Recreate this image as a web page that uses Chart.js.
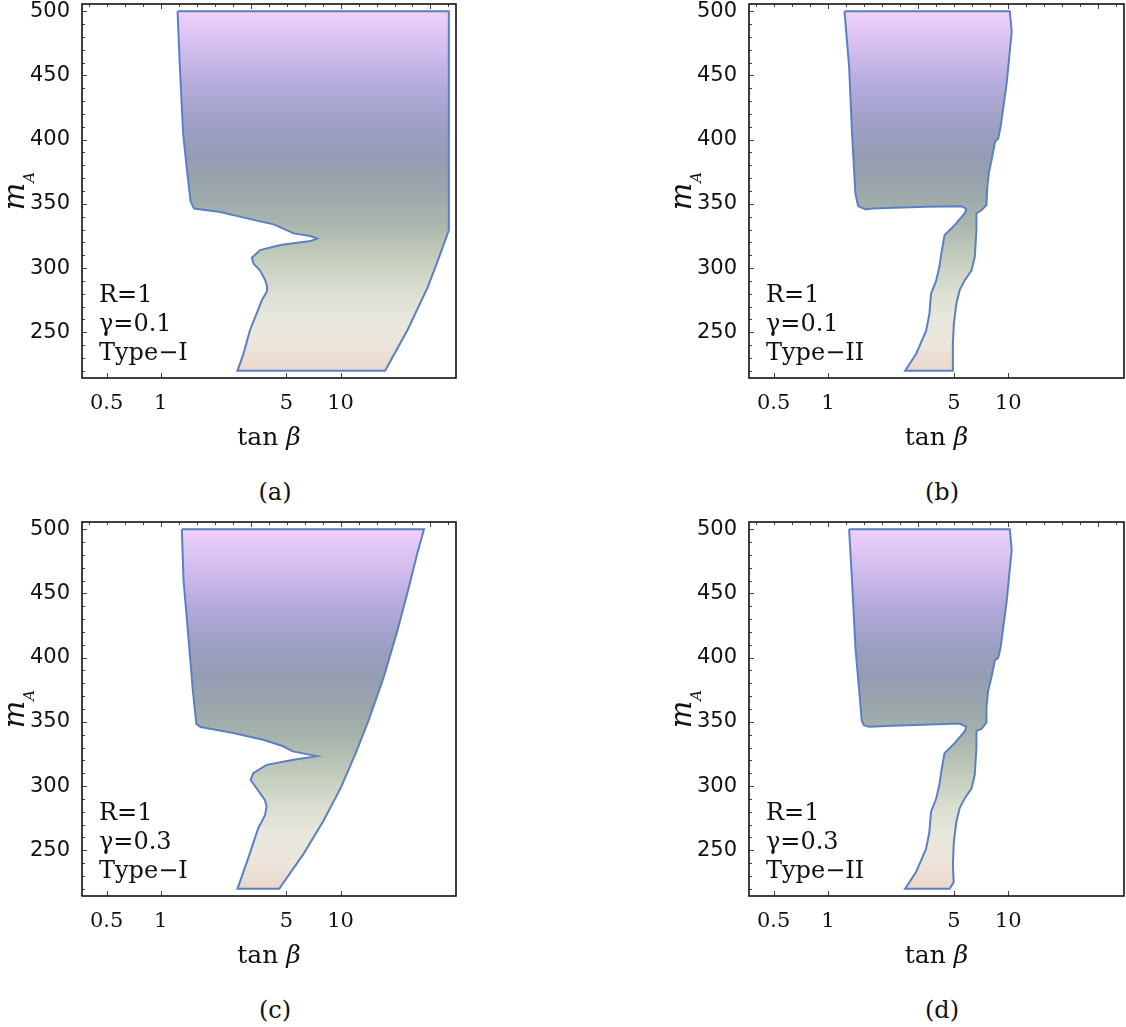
<!DOCTYPE html>
<html>
<head>
<meta charset="utf-8">
<script src="https://cdn.jsdelivr.net/npm/chart.js@4.4.1/dist/chart.umd.min.js"></script>
<style>
  body { margin: 0; background: #fff; }
  #page { position: relative; width: 1126px; height: 1027px; overflow: hidden; }
  canvas { position: absolute; }
  .cap { position: absolute; width: 80px; margin-left: -40px; text-align: center;
         font: 24px "DejaVu Serif"; color: #111; }
</style>
</head>
<body>
<div id="page">
  <canvas id="pa" width="470" height="460" style="left:0;top:0"></canvas>
  <canvas id="pb" width="459" height="460" style="left:667px;top:0"></canvas>
  <canvas id="pc" width="470" height="460" style="left:0;top:518px"></canvas>
  <canvas id="pd" width="459" height="460" style="left:667px;top:518px"></canvas>
  <div class="cap" style="left:275px;top:478px">(a)</div>
  <div class="cap" style="left:942px;top:478px">(b)</div>
  <div class="cap" style="left:275px;top:996px">(c)</div>
  <div class="cap" style="left:942px;top:996px">(d)</div>
</div>
<script>
// axis ranges and ticks
const tanRange = [0.3648, 43.85];
const massRange = [214.4, 505.6];
const tanTicks = [0.5, 1, 5, 10];
const tanTickLabels = ['0.5', '1', '5', '10'];
const massTicks = [250, 300, 350, 400, 450, 500];

// allowed regions, boundary traced clockwise from the top-left corner
// (a) R=1, gamma=0.1, Type-I
const tanA = [1.24, 40, 40, 34.8, 30.5, 23.6, 17.7, 2.67, 2.88, 3.14, 3.42, 3.65, 3.90, 3.90, 3.81, 3.57,
  3.28, 3.21, 3.57, 4.62, 6.80, 7.41, 6.80, 5.48, 5.04, 4.24, 3.28, 2.14, 1.53, 1.465, 1.392, 1.332, 1.277, 1.24];
const massA = [500, 500, 329.4, 306, 285, 252, 220, 220, 233, 252, 265, 275, 282, 286, 290.5, 298,
  303.5, 308, 314, 318, 321, 323, 325, 327, 329.4, 334, 337.5, 343.7, 346.3, 352, 379, 405, 457, 500];

// (b) R=1, gamma=0.1, Type-II
const tanB = [1.235, 10.2, 10.45, 9.80, 9.07, 8.80, 8.43, 8.08, 7.80, 7.63, 7.57, 7.10, 6.66, 6.66, 6.52,
  6.25, 5.73, 5.37, 5.15, 4.99, 4.93, 4.93, 2.68, 3.08, 3.50, 3.65, 3.73, 3.98, 4.15, 4.25, 4.43, 5.04,
  5.73, 5.86, 5.49, 3.50, 1.76, 1.62, 1.47, 1.42, 1.36, 1.31, 1.235];
const massB = [500, 500, 484, 444, 410, 401, 398, 384, 374, 361, 349, 345, 342.5, 329.5, 308.6,
  298, 290.4, 282.6, 272, 256.6, 241, 220, 220, 233, 251, 264, 280, 290, 301, 311, 325.5, 333.4,
  342.5, 346, 348.2, 347.7, 346.4, 345.6, 348.2, 358, 405, 457, 500];

// (c) R=1, gamma=0.3, Type-I
const tanC = [1.31, 29.1, 26.7, 24.0, 20.7, 17.4, 14.3, 12.1, 10.05, 8.04, 6.21, 4.56, 2.67, 3.06, 3.48,
  3.80, 3.88, 3.80, 3.41, 3.16, 3.27, 3.88, 5.47, 7.38, 5.42, 4.80, 3.71, 2.525, 1.667, 1.577, 1.509,
  1.415, 1.339, 1.31];
const massC = [500, 500, 481, 455, 421, 385, 351, 325, 299, 273, 247, 220, 220, 243.5, 267,
  277.4, 284, 289, 298.3, 304.8, 310, 316.5, 320.5, 323.3, 327, 331, 336, 341.3, 346, 348.4, 374,
  421, 460, 500];

// (d) R=1, gamma=0.3, Type-II
const tanD = [1.31, 10.2, 10.45, 9.80, 9.07, 8.80, 8.43, 8.08, 7.73, 7.57, 7.57, 7.10, 6.66, 6.66, 6.52,
  6.25, 5.73, 5.37, 5.15, 4.99, 4.93, 4.98, 4.73, 2.68, 3.08, 3.50, 3.65, 3.73, 3.98, 4.15, 4.25, 4.43,
  5.04, 5.73, 5.86, 5.37, 2.28, 1.69, 1.58, 1.54, 1.42, 1.36, 1.31];
const massD = [500, 500, 484, 444, 408, 400, 398, 385, 374, 361, 349.5, 344.5, 343, 330, 309,
  298, 290.4, 282.6, 272, 256.6, 238.6, 225, 220, 220, 233, 251, 264, 280, 290, 301, 311, 325.5,
  333.4, 342.5, 346, 348.7, 346.9, 346.1, 347.4, 350.8, 408, 460, 500];

// vertical colour ramp of the shading, by m_A
const shadeMass = [500, 470, 440, 410, 385, 360, 335, 310, 285, 260, 240, 220];
const shadeColors = ['#efd0fa', '#d2bdee', '#b3aadb', '#9d9fc4', '#959cb2', '#9ba7ab',
  '#a9b6ad', '#c2cbbb', '#d9ddcf', '#e9e8de', '#ede4da', '#e8d7c9'];

function regionFill(context) {
  const chart = context.chart;
  if (!chart.chartArea) return 'rgba(0,0,0,0)';
  const y = chart.scales.y;
  const top = shadeMass[0], bot = shadeMass[shadeMass.length - 1];
  const g = chart.ctx.createLinearGradient(0, y.getPixelForValue(top), 0, y.getPixelForValue(bot));
  shadeMass.forEach((m, i) => g.addColorStop((top - m) / (top - bot), shadeColors[i]));
  return g;
}

const framePlugin = {
  id: 'frame',
  afterDatasetsDraw(chart, args, opts) {
    const { ctx, chartArea: a, scales: { x, y } } = chart;
    ctx.save();
    // inward ticks
    ctx.strokeStyle = '#444';
    ctx.lineWidth = 1;
    ctx.beginPath();
    for (let m = 220; m <= 500; m += 10) {
      const py = Math.round(y.getPixelForValue(m)) + 0.5;
      const len = m % 50 === 0 ? 5 : 3;
      ctx.moveTo(a.left, py);
      ctx.lineTo(a.left + len, py);
    }
    for (let k = -4; k <= 16; k++) {
      const px = Math.round(x.getPixelForValue(Math.pow(10, k / 10))) + 0.5;
      if (px <= a.left + 1 || px >= a.right - 1) continue;
      const len = k % 5 === 0 ? 5 : 3;
      ctx.moveTo(px, a.top);
      ctx.lineTo(px, a.top + len);
    }
    tanTicks.forEach(v => {
      const px = Math.round(x.getPixelForValue(v)) + 0.5;
      ctx.moveTo(px, a.bottom);
      ctx.lineTo(px, a.bottom - 5);
    });
    ctx.stroke();
    // frame
    ctx.strokeStyle = '#111';
    ctx.lineWidth = 1.6;
    ctx.strokeRect(a.left, a.top, a.right - a.left, a.bottom - a.top);
    // parameter notes
    ctx.fillStyle = '#111';
    ctx.font = '24px "DejaVu Serif"';
    ctx.textBaseline = 'alphabetic';
    ctx.textAlign = 'left';
    opts.notes.forEach((t, i) => ctx.fillText(t, a.left + 17, a.top + 298 + i * 29));
    // x title: tan (upright) beta (italic)
    const cx = (a.left + a.right) / 2;
    ctx.font = '25px "DejaVu Serif"';
    const wt = ctx.measureText('tan ').width;
    ctx.font = 'italic 25px "DejaVu Serif"';
    const wb = ctx.measureText('\u03b2').width;
    const tx = cx - (wt + wb) / 2;
    ctx.font = '25px "DejaVu Serif"';
    ctx.fillText('tan ', tx, a.bottom + 67);
    ctx.font = 'italic 25px "DejaVu Serif"';
    ctx.fillText('\u03b2', tx + wt, a.bottom + 67);
    // y title m_A
    ctx.translate(a.left - 58, (a.top + a.bottom) / 2);
    ctx.rotate(-Math.PI / 2);
    ctx.font = 'italic 29px "DejaVu Serif"';
    const wm = ctx.measureText('m').width;
    ctx.font = 'italic 15px "DejaVu Serif"';
    const wa = ctx.measureText('A').width;
    const x0 = -(wm + wa) / 2;
    ctx.font = 'italic 29px "DejaVu Serif"';
    ctx.fillText('m', x0, 0);
    ctx.font = 'italic 15px "DejaVu Serif"';
    ctx.fillText('A', x0 + wm, 10);
    ctx.restore();
  }
};

function noEdgePadding(s) {
  s.paddingTop = 0;
  s.paddingBottom = 0;
  s.paddingLeft = 0;
  s.paddingRight = 0;
}

function buildChart(id, tanVals, massVals, notes, padRight) {
  const points = tanVals.map((t, i) => ({ x: t, y: massVals[i] }));
  return new Chart(document.getElementById(id), {
    type: 'scatter',
    data: {
      datasets: [{
        data: points,
        showLine: true,
        fill: 'shape',
        tension: 0,
        borderColor: '#5b80c2',
        borderWidth: 2,
        pointRadius: 0,
        backgroundColor: regionFill
      }]
    },
    options: {
      responsive: false,
      animation: false,
      devicePixelRatio: 1,
      layout: { padding: { left: 0, right: padRight, top: 4, bottom: 0 } },
      plugins: {
        legend: { display: false },
        tooltip: { enabled: false },
        frame: { notes: notes }
      },
      scales: {
        x: {
          type: 'logarithmic',
          min: tanRange[0],
          max: tanRange[1],
          grid: { display: false },
          border: { display: false },
          afterBuildTicks: s => { s.ticks = tanTicks.map(v => ({ value: v })); },
          afterFit: s => { s.height = 82; noEdgePadding(s); },
          ticks: {
            autoSkip: false,
            maxRotation: 0,
            padding: 5,
            color: '#111',
            font: { family: 'DejaVu Serif', size: 21 },
            callback: (v, i) => tanTickLabels[i]
          }
        },
        y: {
          min: massRange[0],
          max: massRange[1],
          grid: { display: false },
          border: { display: false },
          afterBuildTicks: s => { s.ticks = massTicks.map(v => ({ value: v })); },
          afterFit: s => { s.width = 82; noEdgePadding(s); },
          ticks: {
            padding: 4,
            color: '#111',
            font: { family: 'DejaVu Sans', size: 21 }
          }
        }
      }
    },
    plugins: [framePlugin]
  });
}

buildChart('pa', tanA, massA, ['R=1', '\u03b3=0.1', 'Type\u2212I'], 14);
buildChart('pb', tanB, massB, ['R=1', '\u03b3=0.1', 'Type\u2212II'], 2);
buildChart('pc', tanC, massC, ['R=1', '\u03b3=0.3', 'Type\u2212I'], 14);
buildChart('pd', tanD, massD, ['R=1', '\u03b3=0.3', 'Type\u2212II'], 2);
</script>
</body>
</html>
